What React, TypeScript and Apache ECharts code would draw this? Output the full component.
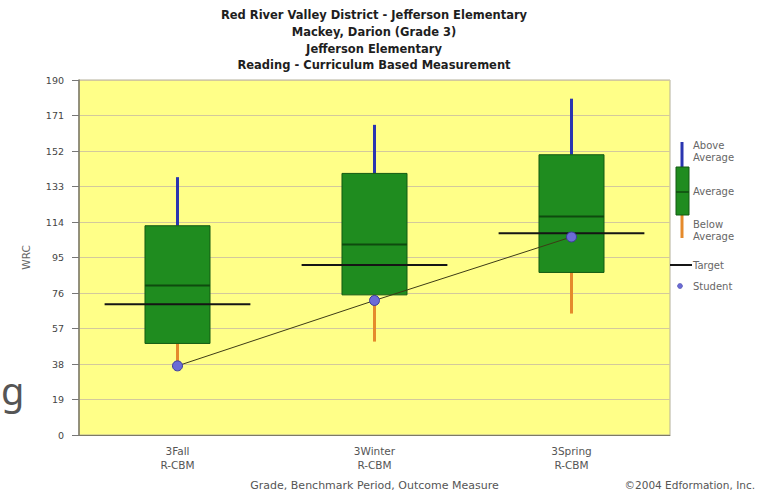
import React, { useEffect, useRef } from "react";
import * as echarts from "echarts";

const titleLines = [
  "Red River Valley District - Jefferson Elementary",
  "Mackey, Darion (Grade 3)",
  "Jefferson Elementary",
  "Reading - Curriculum Based Measurement",
];
const categories = ["3Fall\nR-CBM", "3Winter\nR-CBM", "3Spring\nR-CBM"];
const lowWhisker = [39, 50, 65];
const q1 = [49, 75, 87];
const median = [80, 102, 117];
const q3 = [112, 140, 150];
const highWhisker = [138, 166, 180];
const target = [70, 91, 108];
const student = [37, 72, 106];
const yMin = 0;
const yMax = 190;
const yInterval = 19;

const BLUE = "#2a35b0";
const ORANGE = "#e58a2c";
const GREEN = "#1f8c1f";
const GREEN_DARK = "#135a13";
const MEDIAN = "#0f4a0f";
const FONT = "'DejaVu Sans', Verdana, sans-serif";

export default function App() {
  const ref = useRef<HTMLDivElement>(null);
  useEffect(() => {
    if (!ref.current) return;
    const chart = echarts.init(ref.current, undefined, { renderer: "svg" });
    const boxData = categories.map((_, i) => [i, lowWhisker[i], q1[i], median[i], q3[i], highWhisker[i]]);
    const targetData = categories.map((_, i) => [i, target[i]]);
    const legendText = (text: string, x: number, y: number) => ({
      type: "text",
      x,
      y,
      style: { text, fill: "#666", font: `10px ${FONT}`, textVerticalAlign: "middle" },
    });
    chart.setOption({
      animation: false,
      backgroundColor: "#ffffff",
      textStyle: { fontFamily: FONT },
      grid: {
        left: 79,
        right: 89,
        top: 80,
        bottom: 60,
        show: true,
        backgroundColor: "#ffff88",
        borderColor: "#b4b09a",
        borderWidth: 1,
      },
      xAxis: {
        type: "category",
        data: categories,
        boundaryGap: true,
        name: "Grade, Benchmark Period, Outcome Measure",
        nameLocation: "middle",
        nameGap: 45,
        nameTextStyle: { color: "#555", fontSize: 11, fontFamily: FONT },
        axisLine: { lineStyle: { color: "#7d7a66", width: 1 } },
        axisTick: { alignWithLabel: true, length: 6, lineStyle: { color: "#777" } },
        axisLabel: { color: "#555", fontSize: 10.5, lineHeight: 14, margin: 9, fontFamily: FONT },
        splitLine: { show: false },
      },
      yAxis: {
        type: "value",
        min: yMin,
        max: yMax,
        interval: yInterval,
        name: "WRC",
        nameLocation: "middle",
        nameGap: 48,
        nameTextStyle: { color: "#666", fontSize: 10.5, fontFamily: FONT },
        axisLine: { show: true, lineStyle: { color: "#7d7a66", width: 1.5 } },
        axisTick: { show: true, length: 7, lineStyle: { color: "#777" } },
        axisLabel: { color: "#444", fontSize: 9.5, margin: 15, fontFamily: FONT },
        splitLine: { show: true, lineStyle: { color: "#d3c99c", width: 1.2 } },
      },
      series: [
        {
          type: "custom",
          name: "Boxes",
          z: 2,
          data: boxData,
          encode: { x: 0, y: [1, 2, 3, 4, 5] },
          renderItem: (params: any, api: any) => {
            const x = api.value(0);
            const pLow = api.coord([x, api.value(1)]);
            const pQ1 = api.coord([x, api.value(2)]);
            const pMed = api.coord([x, api.value(3)]);
            const pQ3 = api.coord([x, api.value(4)]);
            const pHigh = api.coord([x, api.value(5)]);
            const band = api.size([1, 0])[0];
            const w = band * 0.33;
            const cx = pMed[0];
            return {
              type: "group",
              children: [
                { type: "line", shape: { x1: cx, y1: pHigh[1], x2: cx, y2: pQ3[1] }, style: { stroke: BLUE, lineWidth: 3 } },
                { type: "line", shape: { x1: cx, y1: pLow[1], x2: cx, y2: pQ1[1] }, style: { stroke: ORANGE, lineWidth: 3 } },
                {
                  type: "rect",
                  shape: { x: cx - w / 2, y: pQ3[1], width: w, height: pQ1[1] - pQ3[1] },
                  style: { fill: GREEN, stroke: GREEN_DARK, lineWidth: 1 },
                },
                { type: "line", shape: { x1: cx - w / 2, y1: pMed[1], x2: cx + w / 2, y2: pMed[1] }, style: { stroke: MEDIAN, lineWidth: 2 } },
              ],
            };
          },
        },
        {
          type: "custom",
          name: "Target",
          z: 3,
          data: targetData,
          encode: { x: 0, y: 1 },
          renderItem: (params: any, api: any) => {
            const p = api.coord([api.value(0), api.value(1)]);
            const band = api.size([1, 0])[0];
            const w = band * 0.74;
            return {
              type: "line",
              shape: { x1: p[0] - w / 2, y1: p[1], x2: p[0] + w / 2, y2: p[1] },
              style: { stroke: "#151515", lineWidth: 2 },
            };
          },
        },
        {
          type: "line",
          name: "Student",
          z: 4,
          data: student,
          symbol: "circle",
          symbolSize: 10,
          lineStyle: { color: "#3d3b16", width: 1 },
          itemStyle: { color: "#6b6bd6", borderColor: "#3b3b9c", borderWidth: 1 },
        },
      ],
      graphic: [
        {
          type: "text",
          x: 374,
          y: 7,
          style: {
            text: titleLines.join("\n"),
            textAlign: "center",
            fill: "#1e1e1e",
            font: `bold 11.5px ${FONT}`,
            lineHeight: 16.7,
          },
        },
        {
          type: "text",
          x: 755,
          y: 485,
          style: { text: "©2004 Edformation, Inc.", textAlign: "right", textVerticalAlign: "middle", fill: "#555", font: `10.5px ${FONT}` },
        },
        {
          type: "text",
          x: 1,
          y: 409,
          style: { text: "g", textAlign: "left", textVerticalAlign: "bottom", fill: "#555", font: `38px 'Noto Sans', sans-serif` },
        },
        { type: "line", shape: { x1: 682, y1: 142, x2: 682, y2: 167 }, style: { stroke: BLUE, lineWidth: 3 } },
        { type: "line", shape: { x1: 682, y1: 215, x2: 682, y2: 238 }, style: { stroke: ORANGE, lineWidth: 3 } },
        { type: "rect", shape: { x: 676, y: 167, width: 13, height: 48 }, style: { fill: GREEN, stroke: GREEN_DARK, lineWidth: 1 } },
        { type: "line", shape: { x1: 676, y1: 192, x2: 689, y2: 192 }, style: { stroke: MEDIAN, lineWidth: 1.5 } },
        { type: "line", shape: { x1: 670, y1: 265, x2: 692, y2: 265 }, style: { stroke: "#151515", lineWidth: 2 } },
        { type: "circle", shape: { cx: 680, cy: 286, r: 2.5 }, style: { fill: "#6b6bd6", stroke: "#3b3b9c", lineWidth: 0.5 } },
        legendText("Above", 693, 145),
        legendText("Average", 693, 157),
        legendText("Average", 693, 191),
        legendText("Below", 693, 224),
        legendText("Average", 693, 236),
        legendText("Target", 693, 265),
        legendText("Student", 693, 286),
      ],
    });
    return () => chart.dispose();
  }, []);
  return <div ref={ref} style={{ position: "fixed", left: 0, top: 0, width: 759, height: 496 }} />;
}
